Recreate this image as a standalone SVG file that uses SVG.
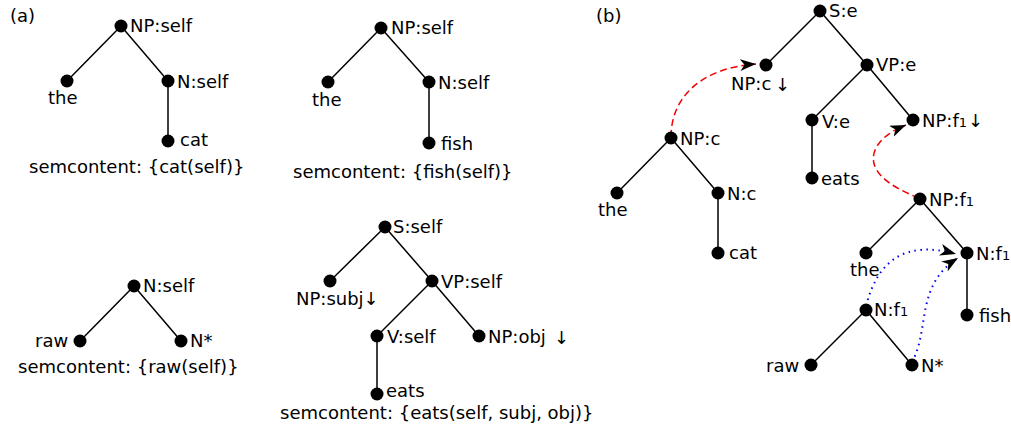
<svg xmlns="http://www.w3.org/2000/svg" width="1011" height="429" viewBox="0 0 1011 429">
  <style>
    text { font-family: "DejaVu Sans", "Liberation Sans", sans-serif; font-size: 18px; fill: #000; }
    .edge { stroke: #000; stroke-width: 1.5; fill: none; }
    .node { fill: #000; }
    .subst { stroke: #e00; stroke-width: 1.5; fill: none; stroke-dasharray: 7 4; }
    .adj { stroke: #00e; stroke-width: 2; fill: none; stroke-dasharray: 1.5 4.5; }
    .sub { font-size: 13px; }
  </style>
  <defs>
    <marker id="head" markerUnits="userSpaceOnUse" markerWidth="18" markerHeight="13" refX="16" refY="6" orient="auto">
      <path d="M0,0 L16,6 L0,12 L4.5,6 z" fill="#000"/>
    </marker>
  </defs>

  <text x="10" y="22">(a)</text>
  <text x="596" y="22">(b)</text>

  <!-- tree edges and derivation links -->
  <g id="connectors">
    <!-- the cat -->
    <path class="edge" d="M121,26 L67,81 M121,26 L168,81 L168,141"/>
    <!-- the fish -->
    <path class="edge" d="M381,28 L328,82 M381,28 L429,82 L429,143"/>
    <!-- raw N* -->
    <path class="edge" d="M134,286 L80,341 M134,286 L181,341"/>
    <!-- eats -->
    <path class="edge" d="M385,227 L330,281 M385,227 L432,281 L377,336 L377,394 M432,281 L479,336"/>
    <!-- derived tree (b) -->
    <path class="edge" d="M820,11 L766,65 M820,11 L867,65 L812,120 L812,178 M867,65 L913,120"/>
    <path class="edge" d="M671,138 L617,193 M671,138 L718,193 L718,253"/>
    <path class="edge" d="M920,199 L866,253 M920,199 L967,253 L967,315"/>
    <path class="edge" d="M866,310 L811,365 M866,310 L912,365"/>
    <!-- substitution links -->
    <path class="subst" d="M671,137 C671,98 700,68 756,64" marker-end="url(#head)"/>
    <path class="subst" d="M919,198 C885,185 866,168 876,148 C882,137 892,131 906,125" marker-end="url(#head)"/>
    <!-- adjunction links -->
    <path class="adj" d="M866,306 C878,260 905,240 956,254" marker-end="url(#head)"/>
    <path class="adj" d="M912,362 C930,330 915,285 958,258" marker-end="url(#head)"/>
  </g>

  <!-- (a) the cat -->
  <g id="a1-np"><circle class="node" cx="121" cy="26" r="6.5"/><text x="130" y="32">NP:self</text></g>
  <g id="a1-the"><circle class="node" cx="67" cy="81" r="6.5"/><text x="48" y="104">the</text></g>
  <g id="a1-n"><circle class="node" cx="168" cy="81" r="6.5"/><text x="177" y="88">N:self</text></g>
  <g id="a1-cat"><circle class="node" cx="168" cy="141" r="6.5"/><text x="180" y="146">cat</text></g>
  <text x="29" y="173">semcontent: {cat(self)}</text>

  <!-- (a) the fish -->
  <g id="a2-np"><circle class="node" cx="381" cy="28" r="6.5"/><text x="391" y="34">NP:self</text></g>
  <g id="a2-the"><circle class="node" cx="328" cy="82" r="6.5"/><text x="312" y="106">the</text></g>
  <g id="a2-n"><circle class="node" cx="429" cy="82" r="6.5"/><text x="438" y="89">N:self</text></g>
  <g id="a2-fish"><circle class="node" cx="429" cy="143" r="6.5"/><text x="441" y="150">fish</text></g>
  <text x="293" y="178">semcontent: {fish(self)}</text>

  <!-- (a) raw -->
  <g id="a3-n"><circle class="node" cx="134" cy="286" r="6.5"/><text x="143" y="292">N:self</text></g>
  <g id="a3-raw"><circle class="node" cx="80" cy="341" r="6.5"/><text x="35" y="347">raw</text></g>
  <g id="a3-foot"><circle class="node" cx="181" cy="341" r="6.5"/><text x="190" y="347">N*</text></g>
  <text x="18" y="373">semcontent: {raw(self)}</text>

  <!-- (a) eats -->
  <g id="a4-s"><circle class="node" cx="385" cy="227" r="6.5"/><text x="393" y="233">S:self</text></g>
  <g id="a4-subj"><circle class="node" cx="330" cy="281" r="6.5"/><text x="296" y="305">NP:subj↓</text></g>
  <g id="a4-vp"><circle class="node" cx="432" cy="281" r="6.5"/><text x="441" y="288">VP:self</text></g>
  <g id="a4-v"><circle class="node" cx="377" cy="336" r="6.5"/><text x="387" y="343">V:self</text></g>
  <g id="a4-obj"><circle class="node" cx="479" cy="336" r="6.5"/><text x="488" y="343">NP:obj</text><text x="554" y="344">↓</text></g>
  <g id="a4-eats"><circle class="node" cx="377" cy="394" r="6.5"/><text x="386" y="397">eats</text></g>
  <text x="280" y="419">semcontent: {eats(self, subj, obj)}</text>

  <!-- (b) derived tree -->
  <g id="b-s"><circle class="node" cx="820" cy="11" r="6.5"/><text x="829" y="17">S:e</text></g>
  <g id="b-npc-slot"><circle class="node" cx="766" cy="65" r="6.5"/><text x="731" y="90">NP:c</text><text x="775" y="91">↓</text></g>
  <g id="b-vp"><circle class="node" cx="867" cy="65" r="6.5"/><text x="876" y="71">VP:e</text></g>
  <g id="b-v"><circle class="node" cx="812" cy="120" r="6.5"/><text x="822" y="128">V:e</text></g>
  <g id="b-npf-slot"><circle class="node" cx="913" cy="120" r="6.5"/><text x="922" y="127">NP:f<tspan class="sub">1</tspan></text><text x="968" y="127">↓</text></g>
  <g id="b-eats"><circle class="node" cx="812" cy="178" r="6.5"/><text x="821" y="185">eats</text></g>
  <g id="b-npc"><circle class="node" cx="671" cy="138" r="6.5"/><text x="680" y="145">NP:c</text></g>
  <g id="b-the1"><circle class="node" cx="617" cy="193" r="6.5"/><text x="598" y="216">the</text></g>
  <g id="b-nc"><circle class="node" cx="718" cy="193" r="6.5"/><text x="727" y="200">N:c</text></g>
  <g id="b-cat"><circle class="node" cx="718" cy="253" r="6.5"/><text x="729" y="259">cat</text></g>
  <g id="b-npf"><circle class="node" cx="920" cy="199" r="6.5"/><text x="929" y="206">NP:f<tspan class="sub">1</tspan></text></g>
  <g id="b-the2"><circle class="node" cx="866" cy="253" r="6.5"/><text x="850" y="276">the</text></g>
  <g id="b-nf"><circle class="node" cx="967" cy="253" r="6.5"/><text x="976" y="260">N:f<tspan class="sub">1</tspan></text></g>
  <g id="b-fish"><circle class="node" cx="967" cy="315" r="6.5"/><text x="979" y="322">fish</text></g>
  <g id="b-nf2"><circle class="node" cx="866" cy="310" r="6.5"/><text x="874" y="316">N:f<tspan class="sub">1</tspan></text></g>
  <g id="b-raw"><circle class="node" cx="811" cy="365" r="6.5"/><text x="766" y="372">raw</text></g>
  <g id="b-foot"><circle class="node" cx="912" cy="365" r="6.5"/><text x="921" y="372">N*</text></g>
</svg>
